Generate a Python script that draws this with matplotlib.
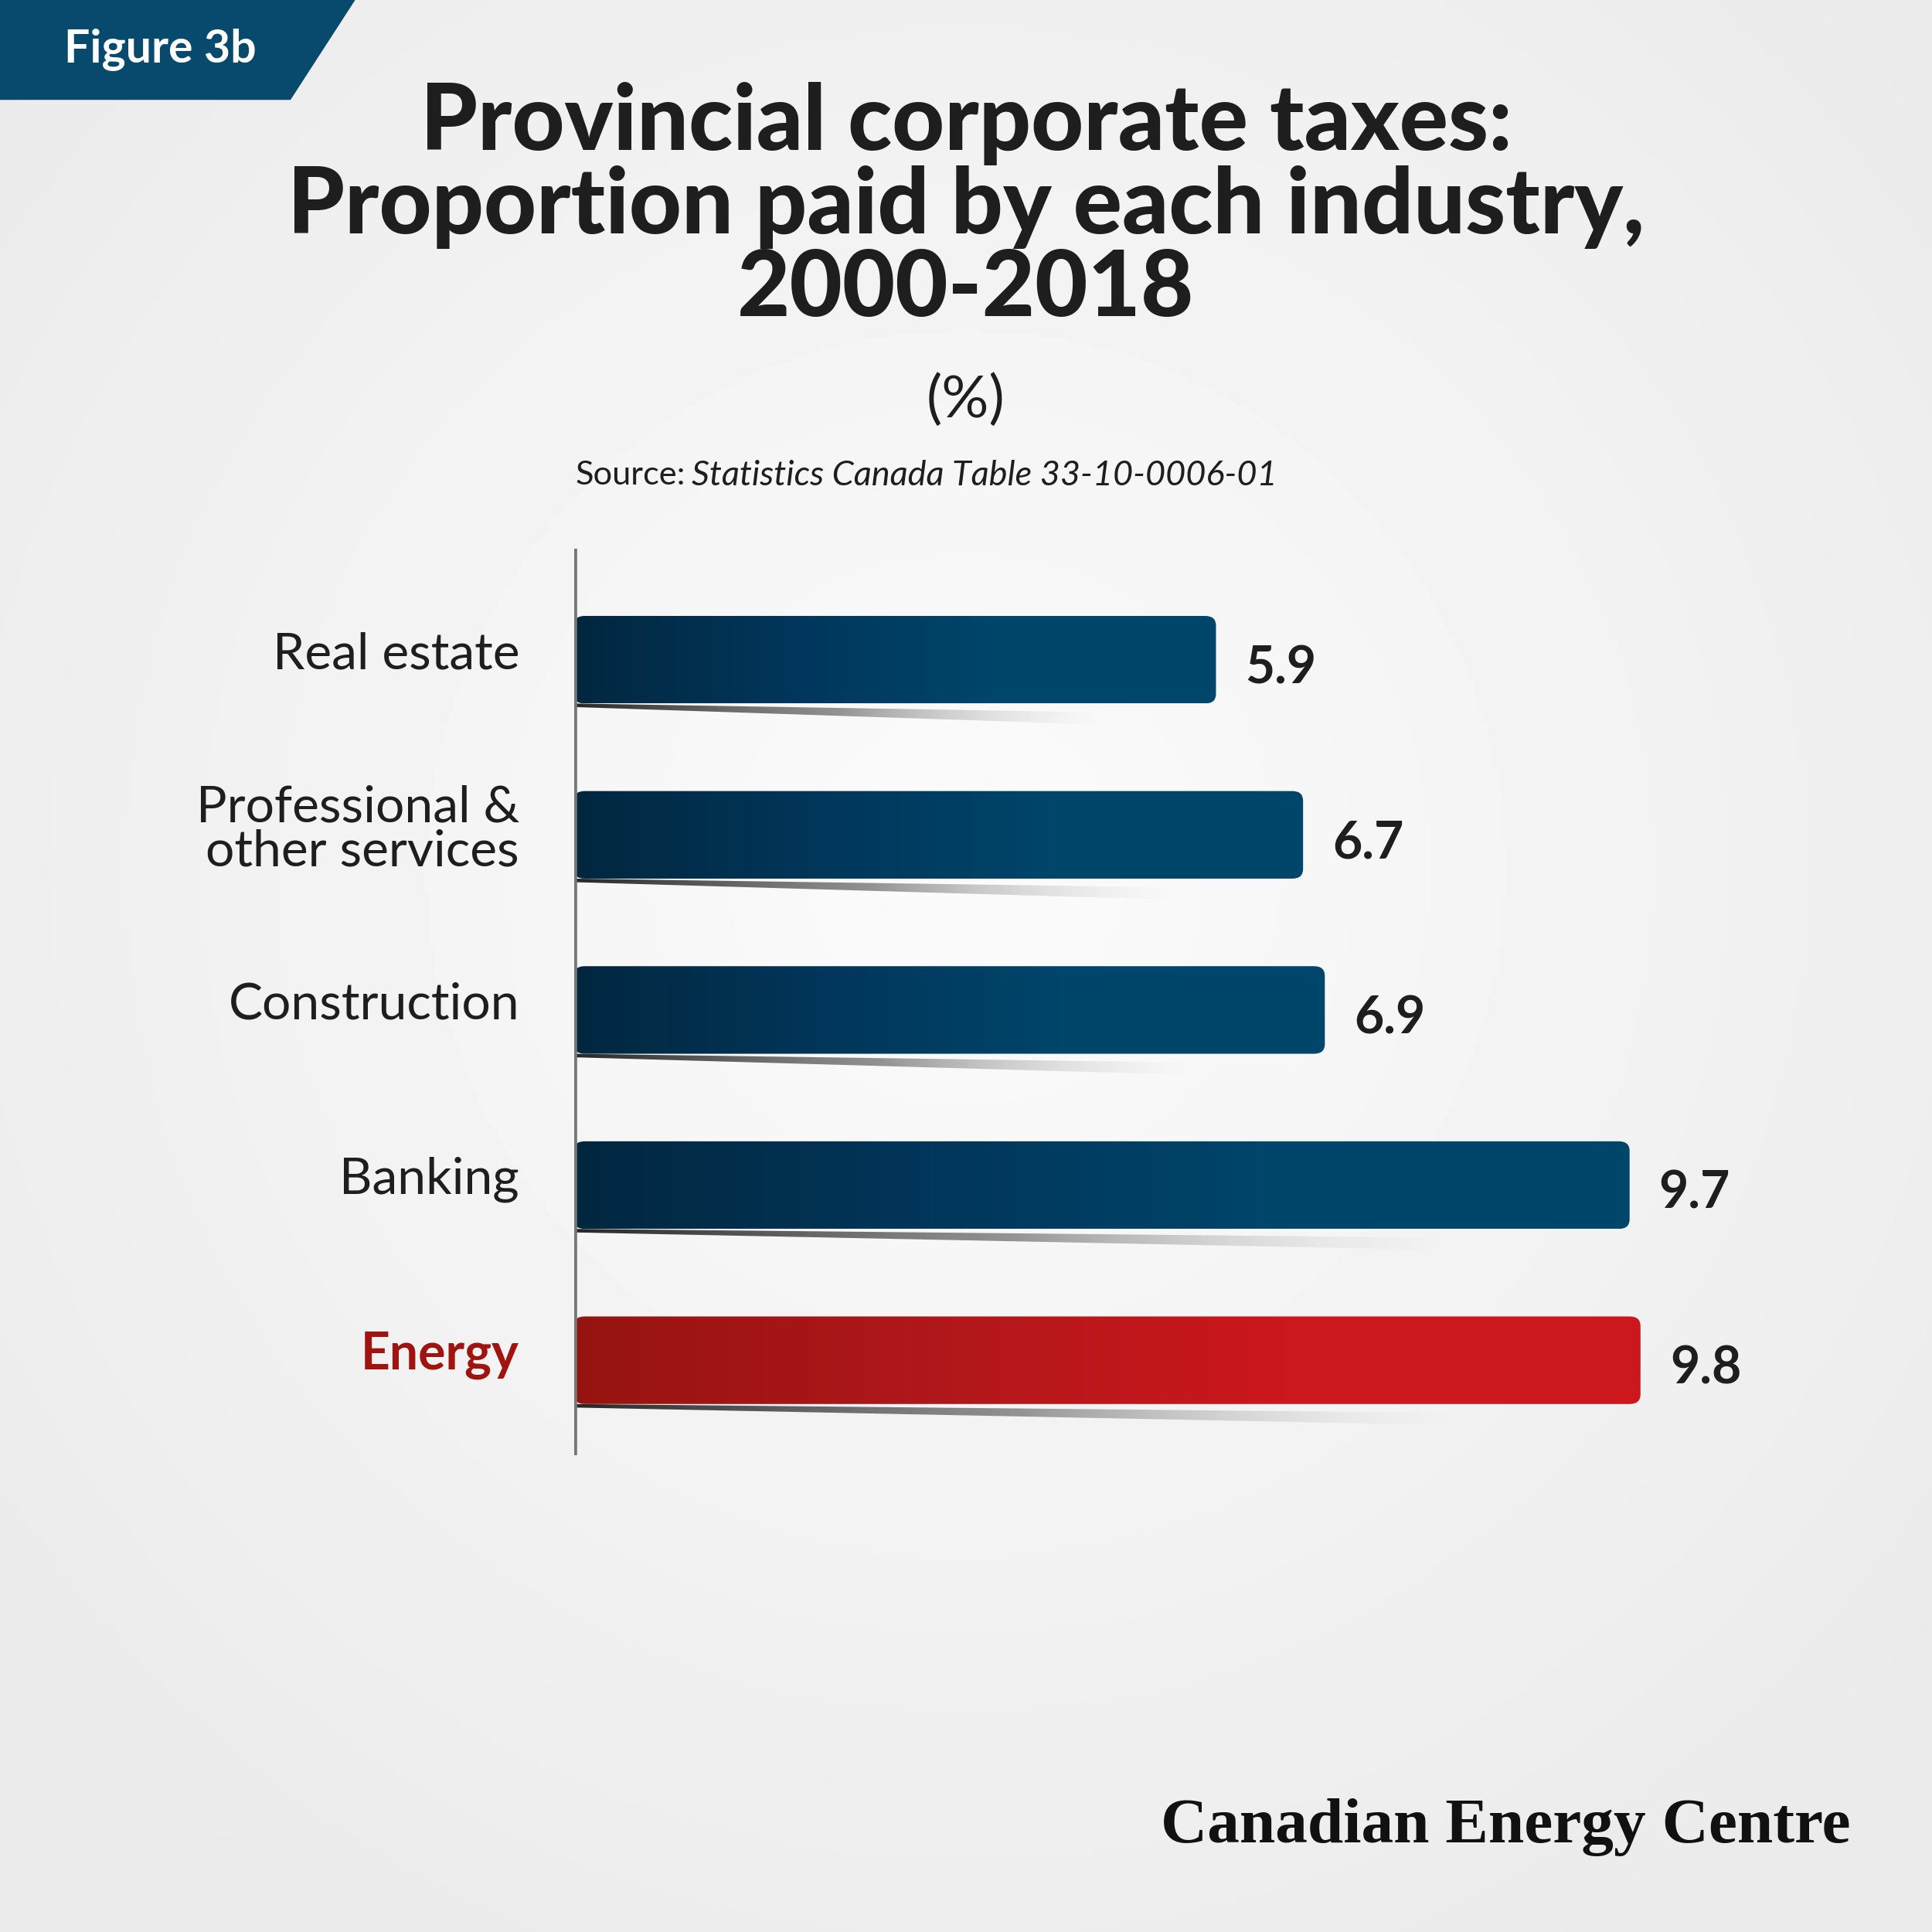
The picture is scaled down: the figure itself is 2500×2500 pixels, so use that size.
import numpy as np
import matplotlib.pyplot as plt
from matplotlib.patches import FancyBboxPatch, Polygon
from matplotlib.colors import LinearSegmentedColormap

industries = ['Real estate', 'Professional &\nother services', 'Construction', 'Banking', 'Energy']
shares = [5.9, 6.7, 6.9, 9.7, 9.8]

fig = plt.figure(figsize=(10, 10), dpi=250)

# background, soft radial light grey
bg = fig.add_axes([0, 0, 1, 1])
yy, xx = np.mgrid[-1:1:400j, -1:1:400j]
r = np.sqrt(xx**2 + (yy + 0.1)**2)
bg.imshow(0.985 - 0.05 * np.clip(r, 0, 1.3), cmap='gray', vmin=0, vmax=1, extent=[0, 1, 0, 1], aspect='auto')
bg.set_xlim(0, 1); bg.set_ylim(0, 1); bg.axis('off')

# banner
bg.add_patch(Polygon([[0, 1], [0.183, 1], [0.15, 0.949], [0, 0.949]], color='#084a6e'))
bg.text(0.083, 0.974, 'Figure 3b', color='white', fontsize=17, fontweight='bold', family='Lato', ha='center', va='center')

bg.text(0.5, 0.893, 'Provincial corporate taxes:\nProportion paid by each industry,\n2000-2018', ha='center', va='center',
        fontsize=34, fontweight='black', family='Lato', color='#1e1e1e', linespacing=1.0)
bg.text(0.5, 0.793, '(%)', ha='center', va='center', fontsize=22, family='Lato', color='#1e1e1e')
bg.text(0.298, 0.754, 'Source:', ha='left', va='center', fontsize=12.5, family='Lato', color='#1e1e1e')
bg.text(0.358, 0.754, 'Statistics Canada Table 33-10-0006-01', ha='left', va='center', fontsize=13,
        family='Lato', style='italic', color='#1e1e1e')
bg.text(0.958, 0.054, 'Canadian Energy Centre', ha='right', va='center', fontsize=24, fontweight='bold',
        family='Liberation Serif', color='#111111')

ax = fig.add_axes([0.297, 0.247, 0.6, 0.469])
ax.set_xlim(0, 10.65)
ax.set_ylim(4.54, -0.634)
ax.axis('off')
ax.axvline(0, color='#777777', lw=2.2, zorder=5)

blue = LinearSegmentedColormap.from_list('b', ['#02273f', '#01365a', '#00466b', '#00466b'])
red = LinearSegmentedColormap.from_list('r', ['#961410', '#b0171a', '#cc171c', '#cc171c'])
shade = LinearSegmentedColormap.from_list('s', [(0.15, 0.15, 0.15, 1.0), (0.4, 0.4, 0.4, 0.7), (0.8, 0.8, 0.8, 0.0)])
h = 0.5
grad = np.linspace(0, 1, 256).reshape(1, -1)
for i, (name, v) in enumerate(zip(industries, shares)):
    # shadow wedge under the bar
    sh = Polygon([[0, i + h / 2], [v * 0.82, i + h / 2 + 0.05], [v * 0.82, i + h / 2 + 0.12], [0, i + h / 2 + 0.02]],
                 transform=ax.transData, facecolor='none', edgecolor='none')
    ax.add_patch(sh)
    im = ax.imshow(grad, cmap=shade, extent=[0, v * 0.82, i + h / 2 + 0.12, i + h / 2], aspect='auto', zorder=1)
    im.set_clip_path(sh)
    box = FancyBboxPatch((0, i - h / 2), v, h, boxstyle='round,pad=0,rounding_size=0.1',
                         mutation_aspect=0.55, facecolor='none', edgecolor='none')
    ax.add_patch(box)
    im = ax.imshow(grad, cmap=red if name == 'Energy' else blue, extent=[0, v, i + h / 2, i - h / 2],
                   aspect='auto', zorder=2)
    im.set_clip_path(box)
    ax.text(v + 0.27, i + 0.05, f'{v}', ha='left', va='center', fontsize=19, fontweight='bold',
            family='Lato', color='#1e1e1e')
    ax.text(-0.5, i - 0.03, name, ha='right', va='center', fontsize=19, family='Lato',
            fontweight='bold' if name == 'Energy' else 'normal',
            color='#a0140f' if name == 'Energy' else '#1e1e1e', linespacing=0.95)

fig.savefig('out.png', dpi=250)
